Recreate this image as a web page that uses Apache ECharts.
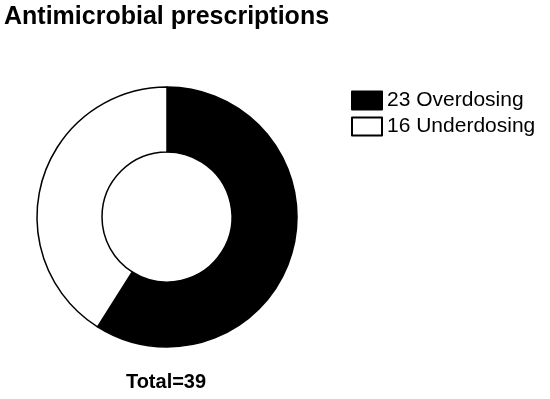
<!DOCTYPE html>
<html>
<head>
<meta charset="utf-8">
<script src="https://cdn.jsdelivr.net/npm/echarts@6/dist/echarts.min.js"></script>
<style>
	html, body { margin: 0; padding: 0; background: #fff; }
	#chart { width: 550px; height: 399px; }
</style>
</head>
<body>
<div id="chart"></div>
<script>
const categories = ["Overdosing", "Underdosing"];
const counts = [23, 16];
const fills = ["#000000", "#ffffff"];
const total = counts.reduce((a, b) => a + b, 0);

const chart = echarts.init(document.getElementById("chart"));
chart.setOption({
	animation: false,
	textStyle: { fontFamily: "Liberation Sans, Arial, sans-serif" },
	title: [
		{
			text: "Antimicrobial prescriptions",
			left: 4,
			top: 5,
			padding: 0,
			textStyle: { fontSize: 25, fontWeight: "bold", color: "#000" }
		},
		{
			text: "Total=" + total,
			left: 166,
			top: 372,
			padding: 0,
			textAlign: "center",
			textStyle: { fontSize: 20, fontWeight: "bold", color: "#000" }
		}
	],
	legend: {
		orient: "vertical",
		left: 351,
		top: 90,
		padding: 0,
		itemWidth: 30,
		itemHeight: 18,
		itemGap: 5,
		itemTextGap: 13,
		icon: "rect",
		itemStyle: { borderColor: "#000", borderWidth: 2 },
		textStyle: { fontSize: 21, color: "#000" },
		formatter: function (name) {
			return counts[categories.indexOf(name)] + " " + name;
		},
		data: categories
	},
	series: [
		{
			type: "pie",
			center: [167, 217],
			radius: [65, 130],
			startAngle: 90,
			clockwise: true,
			label: { show: false },
			labelLine: { show: false },
			emphasis: { disabled: true },
			itemStyle: { borderColor: "#000", borderWidth: 1.5 },
			data: categories.map((c, i) => ({
				name: c,
				value: counts[i],
				itemStyle: { color: fills[i] }
			}))
		}
	]
});
</script>
</body>
</html>
